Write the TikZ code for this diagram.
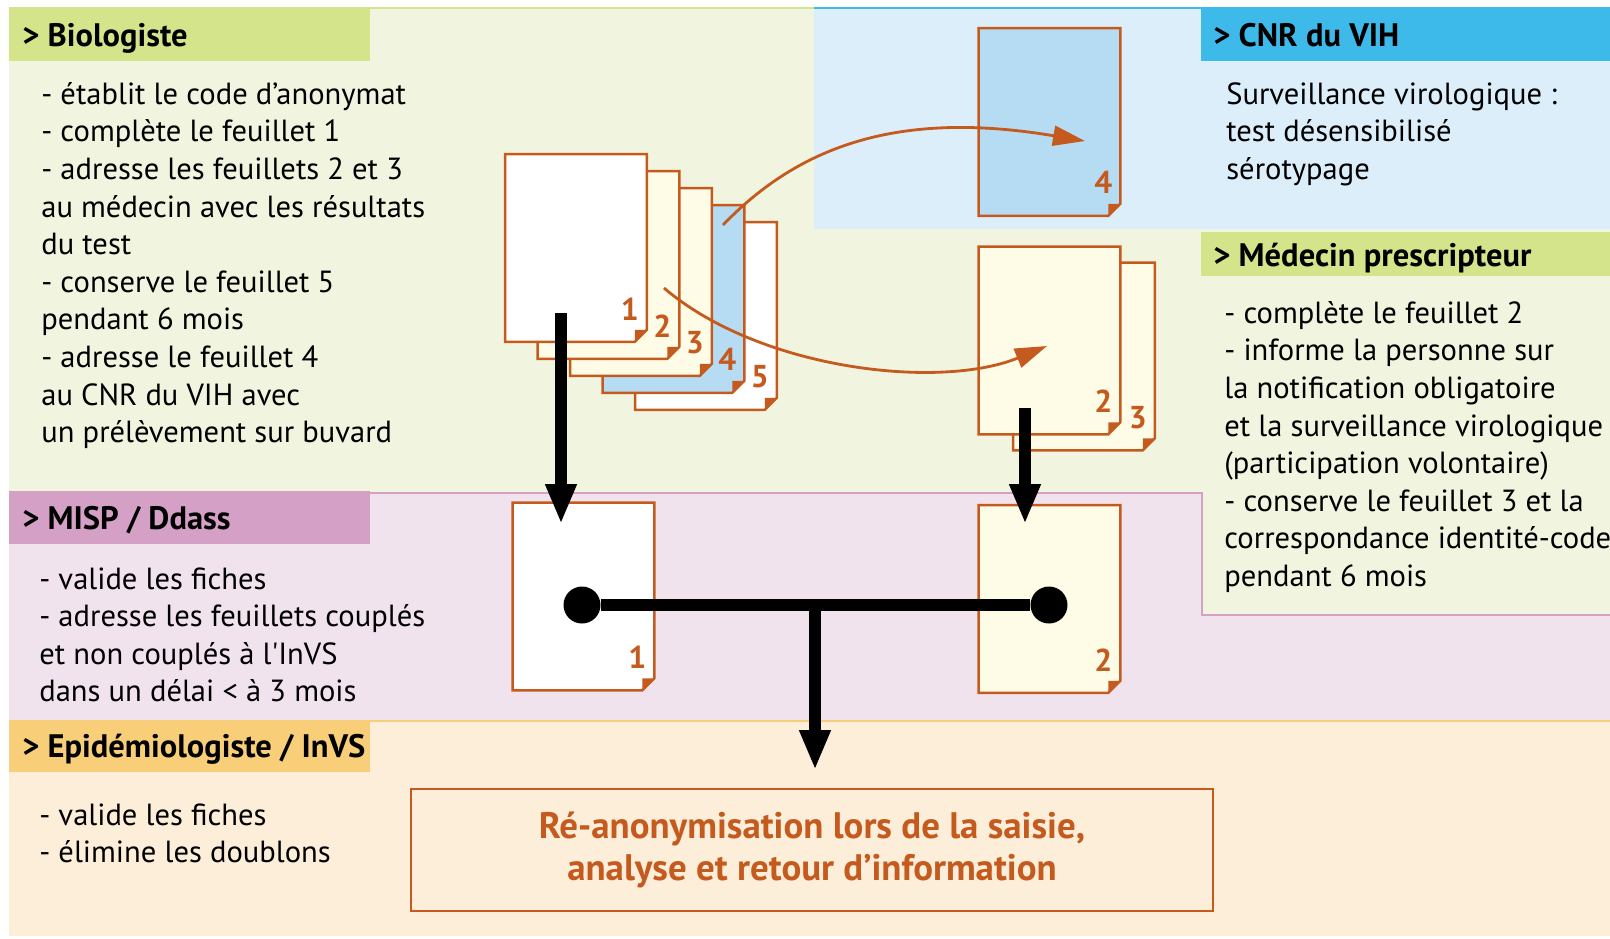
\documentclass[tikz,border=0pt]{standalone}
\usepackage{fontspec}
\setmainfont{PT Sans}
\usetikzlibrary{arrows.meta}

\definecolor{vertfond}{HTML}{F1F5DF}
\definecolor{vertbande}{HTML}{D3E48B}
\definecolor{bleufond}{HTML}{DCEEFA}
\definecolor{bleubande}{HTML}{3DB9EA}
\definecolor{mauvefond}{HTML}{F1E3EE}
\definecolor{mauvebande}{HTML}{D4A0C5}
\definecolor{orfond}{HTML}{FDEEDA}
\definecolor{orbande}{HTML}{F8CE79}
\definecolor{brique}{HTML}{C55A1F}
\definecolor{creme}{HTML}{FEFCE6}
\definecolor{bleufeuille}{HTML}{B5DCF3}

\tikzset{
	titre/.style={anchor=base west,inner sep=0,font=\bfseries\fontsize{18.5}{20}\selectfont},
	texte/.style={anchor=north west,inner sep=0,align=left,font=\fontsize{17.4}{21.4}\selectfont},
	feuille/.style={minimum width=2.82cm,minimum height=3.74cm,inner sep=0},
	bord/.style={draw=brique,line width=1.4pt},
	numero/.style={inner sep=0,text=brique,font=\bfseries\fontsize{18}{18}\selectfont},
	fleche/.style={line width=0.24cm,-{Triangle[width=0.58cm,length=0.8cm]}},
	trait/.style={line width=0.24cm},
	point/.style={circle,fill=black,minimum size=0.74cm,inner sep=0},
	courbe/.style={draw=brique,line width=1.6pt,-{Triangle[width=0.4cm,length=0.64cm]}},
	resultat/.style={draw=brique,line width=1.3pt,minimum width=16.04cm,minimum height=2.44cm,align=center,text=brique,font=\bfseries\fontsize{21}{24.4}\selectfont}
}

\newcommand{\feuillet}[4]{%
	\node[feuille] (#1) at (#2) {};
	\filldraw[bord,fill=#3] (#1.north west) -- (#1.north east) -- ([yshift=0.24cm]#1.south east) -- ([xshift=-0.24cm]#1.south east) -- (#1.south west) -- cycle;
	\fill[brique] ([xshift=-0.24cm]#1.south east) -- ([yshift=0.24cm]#1.south east) -- ([xshift=-0.24cm,yshift=0.24cm]#1.south east) -- cycle;
	\node[numero] (#1n) at ([xshift=-0.34cm,yshift=0.66cm]#1.south east) {#4};
}

\begin{document}
\begin{tikzpicture}[x=0.02cm,y=-0.02cm]
	\useasboundingbox (0,0) rectangle (1610,938);
	\fill[white] (0,0) rectangle (1610,938);
	\fill[vertfond] (9,8) rectangle (1610,493);
	\fill[bleufond] (814,8) rectangle (1610,229);
	\fill[mauvefond] (9,493) rectangle (1610,721);
	\fill[orfond] (9,721) rectangle (1610,936);
	\fill[vertfond] (1202,229) rectangle (1610,615);
	\draw[vertbande,line width=0.6pt] (9,8) -- (814,8);
	\draw[bleubande,line width=0.6pt] (814,8) -- (1610,8);
	\draw[mauvebande,line width=0.6pt] (9,493) -- (1202,493) -- (1202,615) -- (1610,615);
	\draw[orbande,line width=0.8pt] (9,721) -- (1610,721);

	\fill[vertbande] (9,8) rectangle (370,61);
	\fill[bleubande] (1201,8) rectangle (1610,61);
	\fill[vertbande] (1201,232) rectangle (1610,276);
	\fill[mauvebande] (9,491) rectangle (370,544);
	\fill[orbande] (9,722) rectangle (370,772);

	\node[titre] (bio) at (22,46) {> Biologiste};
	\node[titre] (cnr) at (1213,46) {> CNR du VIH};
	\node[titre] (med) at (1213,266) {> Médecin prescripteur};
	\node[titre] (misp) at (22,529) {> MISP / Ddass};
	\node[titre] (epi) at (22,757) {> Epidémiologiste / InVS};

	\node[texte] (biotxt) at (41,82) {- établit le code d’anonymat\\- complète le feuillet 1\\- adresse les feuillets 2 et 3\\au médecin avec les résultats\\du test\\- conserve le feuillet 5\\pendant 6 mois\\- adresse le feuillet 4\\au CNR du VIH avec\\un prélèvement sur buvard};
	\node[texte] (cnrtxt) at (1226,82) {Surveillance virologique :\\test désensibilisé\\sérotypage};
	\node[texte] (medtxt) at (1224,301) {- complète le feuillet 2\\- informe la personne sur\\la notification obligatoire\\et la surveillance virologique\\(participation volontaire)\\- conserve le feuillet 3 et la\\correspondance identité-code\\pendant 6 mois};
	\node[texte] (misptxt) at (39,567) {- valide les fiches\\- adresse les feuillets couplés\\et non couplés à l\textquotesingle InVS\\dans un délai < à 3 mois};
	\node[texte] (epitxt) at (39,803) {- valide les fiches\\- élimine les doublons};

	\feuillet{f5}{706,316}{white}{5}
	\feuillet{f4}{673.5,299}{bleufeuille}{4}
	\feuillet{f3}{641,282}{creme}{3}
	\feuillet{f2}{608.5,265}{creme}{2}
	\feuillet{f1}{576,248}{white}{1}

	\feuillet{cnr4}{1049.5,122}{bleufeuille}{4}
	\feuillet{med3}{1084,356.5}{creme}{3}
	\feuillet{med2}{1049.5,340.5}{creme}{2}
	\feuillet{misp1}{583.5,596.5}{white}{1}
	\feuillet{misp2}{1049.5,599}{creme}{2}

	\draw[courbe] (723,225) .. controls (800,145) and (900,110) .. (1085,141);
	\draw[courbe] (664,288) .. controls (760,370) and (940,390) .. (1047,346);

	\coordinate (a1) at (561,313);
	\coordinate (b1) at (561,524);
	\coordinate (a2) at (1025,408);
	\coordinate (b2) at (1025,524);
	\draw[fleche] (a1) -- (b1);
	\draw[fleche] (a2) -- (b2);
	\node[point] (p1) at (582,605) {};
	\node[point] (p2) at (1049,605) {};
	\draw[trait] (p1) -- (p2);

	\node[resultat] (res) at (812,850) {Ré-anonymisation lors de la saisie,\\analyse et retour d’information};
	\coordinate (t) at (815,605);
	\coordinate (c) at (815,770);
	\draw[fleche] (t) -- (c);
\end{tikzpicture}
\end{document}
